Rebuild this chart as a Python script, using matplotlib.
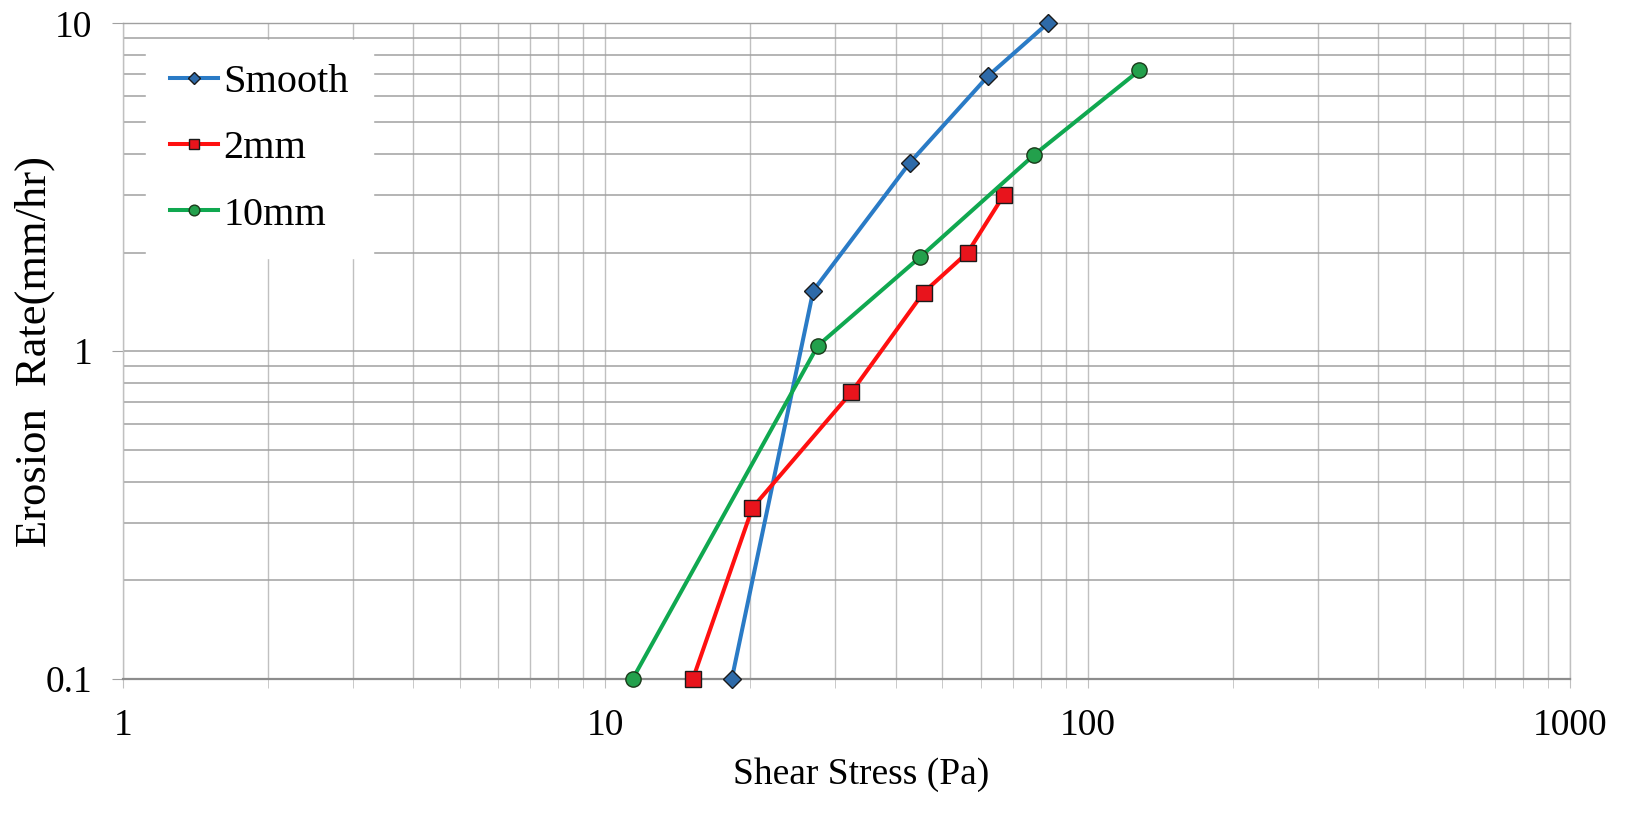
import numpy as np
import matplotlib
matplotlib.use('Agg')
import matplotlib.pyplot as plt
from matplotlib.ticker import LogLocator, NullFormatter, FixedLocator, FixedFormatter

# ---------------------------------
# data

smooth_x = [18.3, 27.0, 42.8, 62.3, 82.6]
smooth_y = [0.1, 1.53, 3.76, 6.93, 10.0]

mm2_x = [15.2, 20.2, 32.4, 45.7, 56.4, 67.1]
mm2_y = [0.1, 0.333, 0.75, 1.51, 2.0, 3.0]

mm10_x = [11.4, 27.6, 45.0, 77.6, 128.0]
mm10_y = [0.1, 1.04, 1.94, 3.98, 7.19]

x_ticks = [1, 10, 100, 1000]
x_ticklabels = ['1', '10', '100', '1000']
y_ticks = [0.1, 1, 10]
y_ticklabels = ['0.1', '1', '10']

# ---------------------------------
# plot

plt.rcParams['font.family'] = ['Liberation Serif', 'DejaVu Serif']

fig = plt.figure(figsize=(16.25, 8.26), dpi=100)
ax = fig.add_axes([0.0755, 0.178, 0.8907, 0.7936])

ax.set_xscale('log')
ax.set_yscale('log')
ax.set_xlim(1, 1000)
ax.set_ylim(0.1, 10)

# gridlines, Excel style
ax.xaxis.set_major_locator(FixedLocator(x_ticks))
ax.xaxis.set_major_formatter(FixedFormatter(x_ticklabels))
ax.xaxis.set_minor_locator(LogLocator(base=10, subs=np.arange(2, 10)))
ax.xaxis.set_minor_formatter(NullFormatter())
ax.yaxis.set_major_locator(FixedLocator(y_ticks))
ax.yaxis.set_major_formatter(FixedFormatter(y_ticklabels))
ax.yaxis.set_minor_locator(LogLocator(base=10, subs=np.arange(2, 10)))
ax.yaxis.set_minor_formatter(NullFormatter())

ax.grid(True, which='both', axis='x', color='#c0c0c0', lw=1.0)
ax.grid(True, which='both', axis='y', color='#a0a0a0', lw=1.1)
ax.set_axisbelow(True)

for s in ['top', 'right', 'left']:
    ax.spines[s].set_color('#c0c0c0')
    ax.spines[s].set_linewidth(1.0)
ax.spines['top'].set_color('#a0a0a0')
ax.spines['bottom'].set_color('#8c8c8c')
ax.spines['bottom'].set_linewidth(1.6)

ax.tick_params(axis='x', which='both', length=6.5, color='#c0c0c0', pad=15,
               labelsize=27)
ax.tick_params(axis='y', which='major', length=8, color='#a0a0a0', pad=14,
               labelsize=27)
ax.tick_params(axis='y', which='minor', length=0)

ax.plot(smooth_x, smooth_y, color='#2a7bc6', lw=2.9, marker='D', ms=8.8,
        mfc='#2e6aa8', mec='#1a1a1a', mew=1.0, label='Smooth', clip_on=False,
        zorder=3)
ax.plot(mm2_x, mm2_y, color='#ff1010', lw=2.9, marker='s', ms=11,
        mfc='#e8141c', mec='#1a1a1a', mew=1.0, label='2mm', clip_on=False,
        zorder=3)
ax.plot(mm10_x, mm10_y, color='#10a850', lw=2.9, marker='o', ms=11,
        mfc='#23a04c', mec='#1a3a1a', mew=1.0, label='10mm', clip_on=False,
        zorder=3)

ax.set_xlabel('Shear Stress (Pa)', fontsize=27)
ax.xaxis.set_label_coords(0.51, -0.12)
ax.set_ylabel('Erosion  Rate(mm/hr)', fontsize=32)
ax.yaxis.set_label_coords(-0.047, 0.5)

leg = ax.legend(loc='upper left', bbox_to_anchor=(0.016, 0.975),
                borderaxespad=0, frameon=True, fancybox=False,
                edgecolor='white', facecolor='white', framealpha=1,
                fontsize=29, handlelength=1.2, handletextpad=0.12,
                labelspacing=0.72, borderpad=0.6, markerscale=0.7)

fig.savefig('out.png', dpi=100, facecolor='white')
